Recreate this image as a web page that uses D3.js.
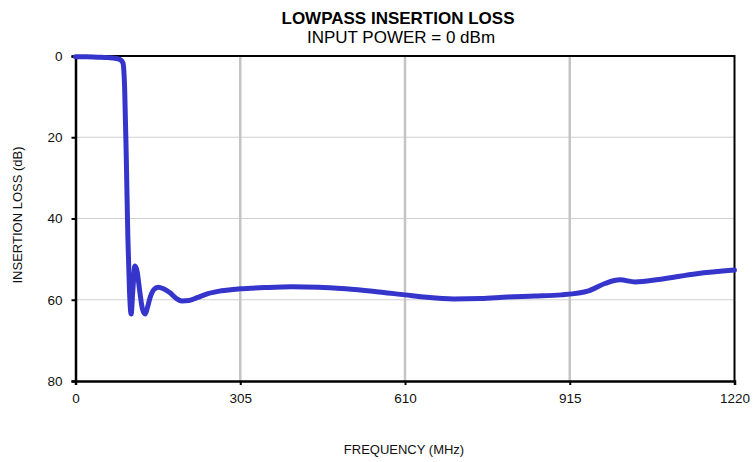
<!DOCTYPE html>
<html>
<head>
<meta charset="utf-8">
<script src="https://cdn.jsdelivr.net/npm/d3@7"></script>
<style>
  body { margin: 0; background: #fff; }
  text { font-family: 'Liberation Sans', Arial, sans-serif; }
</style>
</head>
<body>
<svg width="754" height="462"></svg>
<script>
// insertion loss curve
let freq = [0, 20, 40, 60, 75, 84, 88, 91, 94, 97, 100, 103, 106, 110, 114, 119, 124, 129, 133, 138,
  145, 153, 163, 175, 187, 197, 210, 225, 245, 270, 305, 350, 400, 450, 500, 550, 610, 650, 700,
  750, 800, 850, 900, 950, 980, 1008, 1036, 1080, 1150, 1220]
let loss = [0.2, 0.2, 0.3, 0.4, 0.6, 1.0, 1.8, 8, 25, 45, 58, 63.5, 58, 51.7, 53, 58, 62.3, 63.5, 62, 59.5,
  57.5, 56.9, 57.3, 58.3, 59.7, 60.3, 60.2, 59.5, 58.5, 57.8, 57.3, 57.0, 56.8, 56.9, 57.3, 57.9, 58.8, 59.4, 59.8,
  59.7, 59.3, 59.1, 58.8, 57.8, 56.0, 55.1, 55.6, 55.0, 53.6, 52.7]

let xTicks = [0, 305, 610, 915, 1220]
let yTicks = [0, 20, 40, 60, 80]

let svg = d3.select('svg')

let x = d3.scaleLinear().domain([0, 1220]).range([75.5, 734.5])
let y = d3.scaleLinear().domain([0, 80]).range([56, 381])

let g = svg.append('g')

// gridlines
g.selectAll('.hgrid')
  .data(yTicks.slice(1, -1))
  .enter().append('line')
  .attr('x1', x(0)).attr('x2', x(1220))
  .attr('y1', d => y(d)).attr('y2', d => y(d))
  .attr('stroke', '#d0d0d0')
  .attr('stroke-width', 1.2)

g.selectAll('.vgrid')
  .data(xTicks.slice(1, -1))
  .enter().append('line')
  .attr('x1', d => x(d)).attr('x2', d => x(d))
  .attr('y1', y(0)).attr('y2', y(80))
  .attr('stroke', '#c4c4c4')
  .attr('stroke-width', 2.5)

// frame top/right
g.append('path')
  .attr('d', 'M' + x(0) + ',' + y(0) + 'H' + x(1220) + 'V' + y(80))
  .attr('fill', 'none')
  .attr('stroke', '#000')
  .attr('stroke-width', 2)

// axes
let xAxis = d3.axisBottom(x).tickValues(xTicks).tickFormat(d3.format('d')).tickSize(4).tickPadding(8)
let yAxis = d3.axisLeft(y).tickValues(yTicks).tickFormat(d3.format('d')).tickSize(4).tickPadding(9)

let gx = svg.append('g').attr('transform', 'translate(0,' + y(80) + ')').call(xAxis)
let gy = svg.append('g').attr('transform', 'translate(' + x(0) + ',0)').call(yAxis)

;[gx, gy].forEach(function (a) {
  a.select('.domain').attr('stroke', '#000').attr('stroke-width', 2.5)
  a.selectAll('.tick line').attr('stroke', '#000').attr('stroke-width', 2)
  a.selectAll('.tick text')
    .attr('fill', '#111')
    .style('font-size', '13.5px')
    .style('font-family', "'Liberation Sans', Arial, sans-serif")
})

// curve
let pts = freq.map((f, i) => [f, loss[i]])
let line = d3.line()
  .x(d => x(d[0]))
  .y(d => y(d[1]))
  .curve(d3.curveMonotoneX)

svg.append('path')
  .datum(pts)
  .attr('d', line)
  .attr('fill', 'none')
  .attr('stroke', '#3535cc')
  .attr('stroke-width', 5)
  .attr('stroke-linejoin', 'round')
  .attr('stroke-linecap', 'round')

// titles
svg.append('text')
  .attr('x', 398).attr('y', 24)
  .attr('text-anchor', 'middle')
  .style('font-size', '17px')
  .style('font-weight', 'bold')
  .text('LOWPASS INSERTION LOSS')

svg.append('text')
  .attr('x', 401).attr('y', 43)
  .attr('text-anchor', 'middle')
  .style('font-size', '17px')
  .text('INPUT POWER = 0 dBm')

svg.append('text')
  .attr('x', 404).attr('y', 454)
  .attr('text-anchor', 'middle')
  .style('font-size', '13px')
  .attr('fill', '#111')
  .text('FREQUENCY (MHz)')

svg.append('text')
  .attr('transform', 'translate(22,' + 215 + ') rotate(-90)')
  .attr('text-anchor', 'middle')
  .style('font-size', '13px')
  .attr('fill', '#111')
  .text('INSERTION LOSS (dB)')
</script>
</body>
</html>
